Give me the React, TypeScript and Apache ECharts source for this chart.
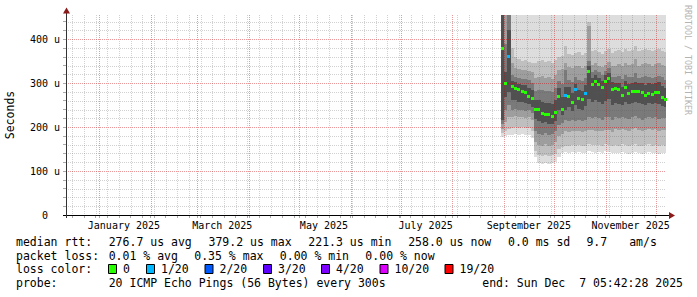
import React, { useEffect, useRef } from 'react';
import * as echarts from 'echarts';

const FONT = "'DejaVu Sans Mono', monospace";

// ---- time frame (360 days ending at the probe's end time) ----
const START = Date.UTC(2024, 11, 12, 5, 42, 28);
const END = Date.UTC(2025, 11, 7, 5, 42, 28);
const Y_MAX = 455;

// ---- smoke columns (2-day consolidation) ----
const COLUMN_DATES = [
  '2025-08-30', '2025-09-01', '2025-09-03', '2025-09-05', '2025-09-07', '2025-09-09', '2025-09-11', '2025-09-13',
  '2025-09-15', '2025-09-17', '2025-09-19', '2025-09-21', '2025-09-23', '2025-09-25', '2025-09-27', '2025-09-29',
  '2025-10-01', '2025-10-03', '2025-10-05', '2025-10-07', '2025-10-09', '2025-10-11', '2025-10-13', '2025-10-15',
  '2025-10-17', '2025-10-19', '2025-10-21', '2025-10-23', '2025-10-25', '2025-10-27', '2025-10-29', '2025-10-31',
  '2025-11-02', '2025-11-04', '2025-11-06', '2025-11-08', '2025-11-10', '2025-11-12', '2025-11-14', '2025-11-16',
  '2025-11-18', '2025-11-20', '2025-11-22', '2025-11-24', '2025-11-26', '2025-11-28', '2025-11-30', '2025-12-02',
  '2025-12-04', '2025-12-06',
];

// median rtt (us)
const MEDIAN = [
  378, 300, 360,
  292, 288, 285, 282, 278, 270, 264,
  240, 241, 232, 229, 229, 224, 234,
  270, 239, 272, 270, 255, 285, 264, 262, 276, 326, 298, 304, 296, 291, 304, 310, 286,
  288, 285, 272, 290, 277, 280, 281, 281, 279, 272, 277, 275, 279, 278, 268, 262,
];

// lost pings out of 20
const LOSS = [
  0, 0, 1,
  0, 0, 0, 0, 0, 0, 0,
  0, 0, 0, 0, 0, 0, 0,
  0, 0, 1, 0, 0, 1, 0, 0, 1, 0, 0, 0, 0, 0, 0, 0, 0,
  0, 0, 0, 0, 0, 0, 0, 0, 0, 0, 0, 0, 0, 0, 0, 0,
];

// smoke layers: outermost (min..max pings) to innermost
const LO1 = [
  178, 180, 181,
  183, 185, 182, 184, 181, 183, 176,
  132, 118, 117, 119, 117, 118, 121,
  132, 140, 143, 141, 144, 142, 143, 140, 142, 145, 143, 141, 144, 142, 145, 143, 141,
  142, 140, 143, 141, 139, 142, 144, 140, 138, 141, 143, 140, 142, 139, 141, 140,
];
const HI1 = [
  520, 510, 505,
  498, 492, 495, 488, 490, 486, 492,
  495, 500, 490, 488, 493, 496, 490,
  488, 492, 505, 494, 490, 498, 492, 489, 495, 512, 494, 490, 493, 488, 491, 496, 490,
  489, 492, 487, 495, 491, 493, 500, 488, 492, 494, 490, 487, 492, 495, 489, 486,
];
const LO2 = [
  186, 192, 196,
  198, 200, 198, 200, 197, 199, 192,
  146, 136, 135, 137, 135, 136, 139,
  150, 155, 158, 157, 160, 158, 159, 157, 158, 161, 160, 160, 160, 158, 161, 160, 157,
  160, 158, 161, 159, 157, 160, 162, 158, 156, 159, 161, 158, 160, 157, 159, 158,
];
const HI2 = [
  470, 470, 470,
  380, 360, 355, 350, 352, 348, 345,
  345, 350, 352, 348, 350, 346, 352,
  360, 362, 385, 366, 365, 368, 370, 364, 368, 440, 372, 375, 370, 366, 372, 378, 368,
  372, 375, 370, 378, 374, 376, 385, 372, 375, 378, 376, 372, 375, 378, 374, 370,
];
const LO3 = [
  196, 212, 222,
  222, 225, 222, 224, 221, 223, 216,
  165, 160, 158, 162, 158, 160, 165,
  180, 185, 190, 188, 192, 190, 191, 189, 190, 194, 193, 192, 192, 190, 193, 193, 189,
  195, 193, 196, 194, 192, 195, 197, 193, 190, 194, 196, 193, 195, 192, 194, 193,
];
const HI3 = [
  470, 470, 470,
  345, 335, 332, 330, 330, 328, 325,
  312, 315, 316, 312, 314, 310, 318,
  330, 332, 345, 336, 334, 338, 340, 334, 338, 430, 342, 345, 340, 336, 342, 348, 338,
  340, 343, 338, 345, 342, 344, 355, 340, 343, 346, 344, 340, 343, 346, 342, 338,
];
const LO4 = [
  206, 240, 250,
  240, 242, 238, 240, 236, 238, 232,
  190, 185, 182, 186, 182, 185, 190,
  205, 210, 215, 213, 217, 214, 216, 213, 215, 222, 220, 222, 220, 217, 222, 222, 215,
  222, 220, 224, 221, 218, 222, 225, 220, 217, 221, 224, 220, 222, 219, 221, 220,
];
const HI4 = [
  470, 390, 470,
  318, 315, 312, 310, 310, 306, 300,
  282, 284, 285, 282, 283, 280, 290,
  305, 298, 330, 308, 303, 315, 308, 304, 312, 350, 325, 330, 326, 318, 328, 334, 314,
  314, 316, 310, 318, 313, 315, 322, 312, 314, 316, 315, 311, 314, 316, 313, 308,
];
const LO5 = [
  215, 268, 280,
  262, 262, 258, 258, 254, 252, 245,
  218, 214, 210, 212, 208, 206, 214,
  240, 228, 240, 245, 236, 250, 242, 240, 248, 265, 258, 262, 258, 252, 260, 265, 250,
  254, 252, 250, 256, 252, 255, 256, 254, 252, 250, 254, 253, 255, 252, 248, 245,
];
const HI5 = [
  470, 325, 420,
  305, 302, 298, 296, 295, 290, 285,
  262, 262, 258, 255, 255, 252, 262,
  290, 268, 292, 292, 278, 298, 285, 282, 295, 340, 312, 318, 312, 305, 318, 324, 302,
  300, 300, 292, 304, 298, 300, 302, 300, 300, 296, 300, 298, 300, 302, 294, 290,
];
const SMOKE_COLORS = ['#dddddd', '#bfbfbf', '#9e9e9e', '#7a7a7a', '#505050'];

// ---- axes ----
const MONTH_STARTS = [
  '2025-01-01', '2025-02-01', '2025-03-01', '2025-04-01', '2025-05-01', '2025-06-01',
  '2025-07-01', '2025-08-01', '2025-09-01', '2025-10-01', '2025-11-01', '2025-12-01',
];
const FIRST_WEEK = '2024-12-16';
const X_LABEL_DATES = ['2025-01-16', '2025-03-16', '2025-05-16', '2025-07-16', '2025-09-16', '2025-11-16'];
const X_LABELS = ['January 2025', 'March 2025', 'May 2025', 'July 2025', 'September 2025', 'November 2025'];
const Y_MAJOR = [100, 200, 300, 400];
const Y_LABEL_VALUES = [0, 100, 200, 300, 400];
const Y_MINOR_STEP = 20;

// ---- legend ----
const RTT_STATS = ['median rtt:', '276.7 us avg', '379.2 us max', '221.3 us min', '258.0 us now', '0.0 ms sd', '9.7', 'am/s'];
const RTT_COLS = [0, 13, 27, 41, 55, 69, 80, 86];
const LOSS_STATS = ['packet loss:', '0.01 % avg', '0.35 % max', '0.00 % min', '0.00 % now'];
const LOSS_COLS = [0, 13, 25, 37, 49];
const LOSS_LABELS = ['0', '1/20', '2/20', '3/20', '4/20', '10/20', '19/20'];
const LOSS_COLORS = ['#26ff00', '#00b8ff', '#0059ff', '#5e00ff', '#7e00ff', '#dd00ff', '#ff0000'];
const LOSS_BOX_X = [108, 146, 204.5, 263, 321, 379.5, 444.5];
const PROBE_TEXT = '20 ICMP Echo Pings (56 Bytes) every 300s';
const END_TEXT = 'end: Sun Dec\u00a0\u00a07 05:42:28 2025';

const DAY = 86400000;
const ts = (s: string) => Date.parse(s + 'T00:00:00Z');

function buildOption() {
  const colStart = COLUMN_DATES.map(ts);
  const colEnd = colStart.map((t, i) => (i + 1 < colStart.length ? colStart[i + 1] : t + 2 * DAY));
  const smokeData = colStart.map((t, i) => [
    t, colEnd[i],
    LO1[i], HI1[i], LO2[i], HI2[i], LO3[i], HI3[i], LO4[i], HI4[i], LO5[i], HI5[i],
  ]);
  const medianData = colStart.map((t, i) => [t, MEDIAN[i], colEnd[i], LOSS[i]]);

  const monthTs = MONTH_STARTS.map(ts);
  const weekTs: number[] = [];
  for (let t = ts(FIRST_WEEK); t < END; t += 7 * DAY) {
    if (!monthTs.includes(t)) weekTs.push(t);
  }
  const vLines = [...weekTs.map((t) => [t, 0, 0]), ...monthTs.map((t) => [t, 0, 1])];
  const yMinor: number[] = [];
  for (let v = Y_MINOR_STEP; v < Y_MAX; v += Y_MINOR_STEP) if (!Y_MAJOR.includes(v)) yMinor.push(v);
  const hLines = [...yMinor.map((v) => [START, v, 0]), ...Y_MAJOR.map((v) => [START, v, 1])];
  const yTicks = [0, ...yMinor, ...Y_MAJOR].sort((a, b) => a - b);

  const MINOR = 'rgba(90,90,90,0.28)';
  const MAJOR = 'rgba(200,0,0,0.4)';

  const legendFont = `11.5px ${FONT}`;
  const colX = (c: number) => 16 + c * 7.13;
  const rowY = [241.7, 255.7, 269.3, 282.7];
  const txt = (text: string, x: number, y: number, extra: any = {}) => ({
    type: 'text', x, y, silent: true,
    style: { text, fill: '#000', font: legendFont, align: 'left', verticalAlign: 'middle', ...extra },
  });

  const graphics: any[] = [];
  RTT_STATS.forEach((s, i) => graphics.push(txt(s, colX(RTT_COLS[i]), rowY[0])));
  LOSS_STATS.forEach((s, i) => graphics.push(txt(s, colX(LOSS_COLS[i]), rowY[1])));
  graphics.push(txt('loss color:', colX(0), rowY[2]));
  LOSS_LABELS.forEach((s, i) => {
    graphics.push({
      type: 'rect', silent: true,
      shape: { x: LOSS_BOX_X[i] + 0.5, y: 264.5, width: 8, height: 9 },
      style: { fill: LOSS_COLORS[i], stroke: '#000', lineWidth: 1 },
    });
    graphics.push(txt(s, LOSS_BOX_X[i] + 15, rowY[2]));
  });
  graphics.push(txt('probe:', colX(0), rowY[3]));
  graphics.push(txt(PROBE_TEXT, colX(13), rowY[3]));
  graphics.push(txt(END_TEXT, 683, rowY[3], { align: 'right' }));
  // axis title
  graphics.push({
    type: 'text', x: 10, y: 115, rotation: Math.PI / 2, silent: true,
    style: { text: 'Seconds', fill: '#000', font: legendFont, align: 'center', verticalAlign: 'middle' },
  });
  // watermark
  graphics.push({
    type: 'text', x: 688, y: 60, rotation: -Math.PI / 2, silent: true,
    style: { text: 'RRDTOOL / TOBI OETIKER', fill: '#b4b4b4', font: `8.3px ${FONT}`, align: 'center', verticalAlign: 'middle' },
  });
  // axis lines and arrows
  graphics.push({ type: 'line', silent: true, z: 50, shape: { x1: 63, y1: 215.5, x2: 670, y2: 215.5 }, style: { stroke: '#000', lineWidth: 1 } });
  graphics.push({ type: 'line', silent: true, z: 50, shape: { x1: 66.5, y1: 218, x2: 66.5, y2: 12 }, style: { stroke: '#333', lineWidth: 1 } });
  graphics.push({ type: 'polygon', silent: true, z: 51, shape: { points: [[669, 212], [675, 215.5], [669, 219]] }, style: { fill: '#8b1a1a' } });
  graphics.push({ type: 'polygon', silent: true, z: 51, shape: { points: [[63, 13.5], [66.5, 7.5], [70, 13.5]] }, style: { fill: '#8b1a1a' } });

  return {
    animation: false,
    backgroundColor: '#ffffff',
    textStyle: { fontFamily: FONT },
    grid: { left: 66, right: 31, top: 15, bottom: 82, containLabel: false },
    xAxis: {
      type: 'value', min: START, max: END,
      axisLine: { show: false },
      splitLine: { show: false },
      axisTick: { show: true, customValues: [...weekTs, ...monthTs], length: 3, lineStyle: { color: '#aaa' } },
      axisLabel: {
        show: true, customValues: X_LABEL_DATES.map(ts), margin: 5, color: '#000', fontSize: 10, fontFamily: FONT,
        formatter: (v: number) => X_LABELS[X_LABEL_DATES.map(ts).indexOf(v)] ?? '',
      },
    },
    yAxis: {
      type: 'value', min: 0, max: Y_MAX,
      axisLine: { show: false },
      splitLine: { show: false },
      axisTick: { show: true, customValues: yTicks, length: 3, lineStyle: { color: '#aaa' } },
      axisLabel: {
        show: true, customValues: Y_LABEL_VALUES, margin: 6, color: '#000', fontSize: 10, fontFamily: FONT,
        formatter: (v: number) => (v === 0 ? '0\u00a0\u00a0' : `${v} u`),
      },
    },
    graphic: graphics,
    series: [
      {
        type: 'custom', name: 'smoke', z: 1, silent: true,
        data: smokeData,
        encode: { x: 0, y: 2 },
        renderItem: (params: any, api: any) => {
          const cs = params.coordSys;
          const t0 = api.value(0);
          const t1 = api.value(1);
          const left = Math.max(cs.x, Math.round(api.coord([t0, 0])[0]));
          const right = Math.min(cs.x + cs.width, Math.round(api.coord([t1, 0])[0]));
          const children = SMOKE_COLORS.map((c, k) => {
            const lo = Math.max(0, api.value(2 + 2 * k));
            const hi = Math.min(Y_MAX, api.value(3 + 2 * k));
            const yTop = Math.round(api.coord([t0, hi])[1]);
            const yBot = Math.round(api.coord([t0, lo])[1]);
            return { type: 'rect', shape: { x: left, y: yTop, width: right - left, height: yBot - yTop }, style: { fill: c } };
          });
          return { type: 'group', children };
        },
      },
      {
        type: 'custom', name: 'vgrid', z: 3, silent: true,
        data: vLines,
        encode: { x: 0, y: 1 },
        renderItem: (params: any, api: any) => {
          const cs = params.coordSys;
          const x = Math.round(api.coord([api.value(0), 0])[0]) + 0.5;
          const major = api.value(2) === 1;
          return {
            type: 'line',
            shape: { x1: x, y1: cs.y, x2: x, y2: cs.y + cs.height },
            style: { stroke: major ? MAJOR : MINOR, lineWidth: 1, lineDash: [1, 1] },
          };
        },
      },
      {
        type: 'custom', name: 'hgrid', z: 3, silent: true,
        data: hLines,
        encode: { x: 0, y: 1 },
        renderItem: (params: any, api: any) => {
          const cs = params.coordSys;
          const y = Math.round(api.coord([api.value(0), api.value(1)])[1]) + 0.5;
          const major = api.value(2) === 1;
          return {
            type: 'line',
            shape: { x1: cs.x, y1: y, x2: cs.x + cs.width, y2: y },
            style: { stroke: major ? MAJOR : MINOR, lineWidth: 1, lineDash: [1, 1] },
          };
        },
      },
      {
        type: 'custom', name: 'median', z: 4, silent: true,
        data: medianData,
        encode: { x: 0, y: 1 },
        renderItem: (params: any, api: any) => {
          const t0 = api.value(0);
          const t1 = api.value(2);
          const xa = api.coord([t0, 0])[0];
          const xb = api.coord([t1, 0])[0];
          const y = api.coord([t0, api.value(1)])[1];
          const color = LOSS_COLORS[Math.min(LOSS_COLORS.length - 1, api.value(3))];
          return {
            type: 'rect',
            shape: { x: Math.round((xa + xb) / 2 - 1.5), y: Math.round(y - 1.5), width: 3, height: 3 },
            style: { fill: color },
          };
        },
      },
    ],
  };
}

export default function App() {
  const ref = useRef<HTMLDivElement>(null);
  useEffect(() => {
    if (!ref.current) return;
    const chart = echarts.init(ref.current, null, { renderer: 'svg' });
    chart.setOption(buildOption() as any);
    return () => chart.dispose();
  }, []);
  return (
    <div
      ref={ref}
      style={{ position: 'fixed', left: 0, top: 0, width: 697, height: 297, background: '#fff' }}
    />
  );
}
